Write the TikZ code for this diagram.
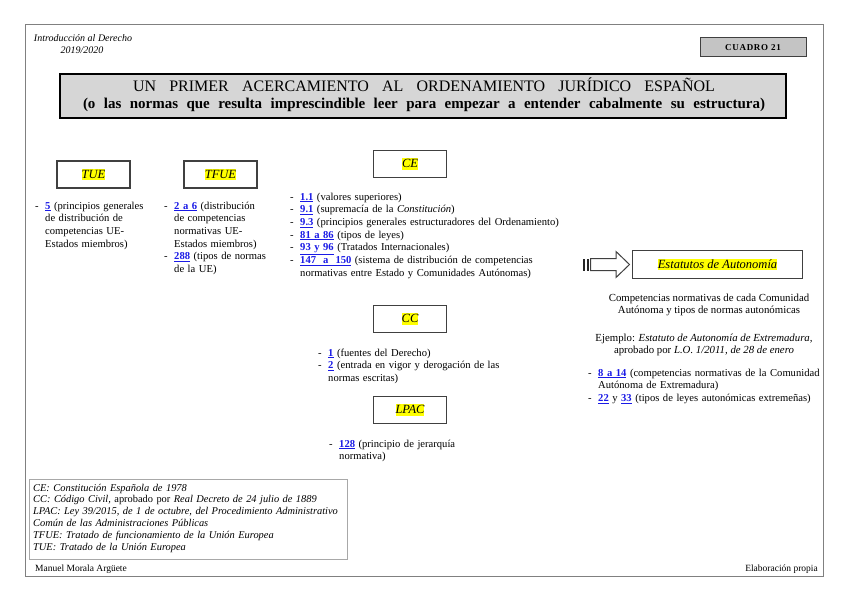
\documentclass[tikz,border=0pt]{standalone}
\usepackage{fontspec}
\setmainfont{Liberation Serif}
\usepackage{xcolor}
\definecolor{linkblue}{HTML}{1A1AE6}
\definecolor{hlyellow}{HTML}{FFFF00}
\definecolor{framegray}{HTML}{808080}
\definecolor{boxborder}{HTML}{404040}
\definecolor{titlefill}{HTML}{D6D6D6}
\definecolor{cuadrofill}{HTML}{C4C4C4}
\definecolor{legendgray}{HTML}{A8A8A8}
\newcommand\lk[1]{\textcolor{linkblue}{\underline{\textbf{#1}}}}
\newcommand\dsh{\makebox[10pt][l]{-}}
\newcommand\ind{\hspace*{10pt}}
\newcommand\hlt[1]{{\setlength{\fboxsep}{0pt}\colorbox{hlyellow}{\rule[-2pt]{0pt}{11.5pt}#1}}}
\begin{document}
\begin{tikzpicture}[x=1pt,y=-1pt,
  lawbox/.style={draw=boxborder, line width=1.2pt, fill=white, minimum width=73pt,
    minimum height=27pt, inner sep=0pt, font=\itshape\fontsize{12.5}{14}\selectfont},
  listtxt/.style={inner sep=0pt, anchor=base west, align=left,
    font=\fontsize{10.6}{12.7}\selectfont},
  linetxt/.style={inner sep=0pt, anchor=base, font=\fontsize{10.8}{12}\selectfont},
  hdr/.style={inner sep=0pt, anchor=base, font=\itshape\fontsize{10}{12}\selectfont},
  foot/.style={inner sep=0pt, font=\fontsize{9.5}{11}\selectfont},
  legendtxt/.style={inner sep=0pt, anchor=base west, align=left,
    font=\itshape\fontsize{10.4}{11.9}\selectfont}
]
\useasboundingbox (0,0) rectangle (848,599);
\fill[white] (0,0) rectangle (848,599);

% outer frame
\draw[framegray, line width=0.9pt] (25,24) rectangle (823,576);

% header
\node[hdr] (course) at (83,42) {Introducción al Derecho};
\node[hdr] (year) at (82,54) {2019/2020};
\node[draw=boxborder, line width=1pt, fill=cuadrofill, minimum width=106pt, minimum height=19pt,
  inner sep=0pt, font=\bfseries\fontsize{9}{10}\selectfont\addfontfeature{LetterSpace=8}]
  (cuadro) at (753,47.5) {CUADRO 21};

% title
\node[draw=black, line width=2.6pt, fill=titlefill, minimum width=726pt, minimum height=44pt,
  inner sep=0pt] (titlebox) at (423,96) {};
\node[inner sep=0pt, anchor=base, font=\fontsize{16}{18}\selectfont] (title1) at (424,91.5)
  {\makebox[582pt][s]{UN PRIMER ACERCAMIENTO AL ORDENAMIENTO JURÍDICO ESPAÑOL}};
\node[inner sep=0pt, anchor=base, font=\bfseries\fontsize{15}{17}\selectfont] (title2) at (424,108.5)
  {\makebox[682pt][s]{(o las normas que resulta imprescindible leer para empezar a entender cabalmente su estructura)}};

% law boxes
\node[lawbox] (tue) at (93.5,174.5) {\hlt{TUE}};
\node[lawbox] (tfue) at (220.5,174.5) {\hlt{TFUE}};
\node[lawbox] (ce) at (410,164) {\hlt{CE}};
\node[lawbox] (cc) at (410,319) {\hlt{CC}};
\node[lawbox] (lpac) at (410,410) {\hlt{LPAC}};
\node[lawbox, minimum width=170pt, minimum height=28pt] (estatutos) at (717.5,264.5)
  {\hlt{Estatutos de Autonomía}};

% striped arrow
\fill[black!85] (583,258.5) rectangle (585,270.5);
\fill[black!85] (586.5,258.5) rectangle (589,270.5);
\draw[boxborder, line width=1pt, fill=white]
  (590.5,258.5) -- (616,258.5) -- (616,251.5) -- (629.5,264.5) -- (616,277.5) -- (616,270.5) -- (590.5,270.5) -- cycle;

% TUE list
\node[listtxt, text width=125pt] (tuelist) at (35,209)
  {\dsh\lk{5} (principios generales\\
   \ind de distribución de\\
   \ind competencias UE-\\
   \ind Estados miembros)};

% TFUE list
\node[listtxt, text width=125pt] (tfuelist) at (164,209)
  {\dsh\lk{2 a 6} (distribución\\
   \ind de competencias\\
   \ind normativas UE-\\
   \ind Estados miembros)\\
   \dsh\lk{288} (tipos de normas\\
   \ind de la UE)};

% CE list
\node[listtxt, text width=277pt] (celist) at (290,200)
  {\dsh\lk{1.1} (valores superiores)\\
   \dsh\lk{9.1} (supremacía de la \textit{Constitución})\\
   \dsh\lk{9.3} (principios generales estructuradores del Ordenamiento)\\
   \dsh\lk{81 a 86} (tipos de leyes)\\
   \dsh\lk{93 y 96} (Tratados Internacionales)\\
   \makebox[277pt][s]{\dsh\lk{147\ \ a\ \ 150} (sistema de distribución de competencias}\\
   \ind normativas entre Estado y Comunidades Autónomas)};

% CC list
\node[listtxt, text width=200pt] (cclist) at (318,356)
  {\dsh\lk{1} (fuentes del Derecho)\\
   \dsh\lk{2} (entrada en vigor y derogación de las\\
   \ind normas escritas)};

% LPAC list
\node[listtxt, text width=163pt] (lpaclist) at (329,447)
  {\makebox[163pt][s]{\dsh\lk{128} (principio de jerarquía}\\
   \ind normativa)};

% right column
\node[linetxt] (comp1) at (709,301) {Competencias normativas de cada Comunidad};
\node[linetxt] (comp2) at (709,313) {Autónoma y tipos de normas autonómicas};
\node[linetxt] (ej1) at (704,341) {Ejemplo: \textit{Estatuto de Autonomía de Extremadura,}};
\node[linetxt] (ej2) at (704,353) {aprobado por \textit{L.O. 1/2011, de 28 de enero}};
\node[listtxt, text width=240pt] (eslist) at (588,376)
  {\dsh\lk{8 a 14} (competencias normativas de la Comunidad\\
   \ind Autónoma de Extremadura)\\
   \dsh\lk{22} y \lk{33} (tipos de leyes autonómicas extremeñas)};

% legend
\node[draw=legendgray, line width=0.9pt, minimum width=318pt, minimum height=80pt, inner sep=0pt]
  (legendbox) at (188,519) {};
\node[legendtxt, text width=314pt] (legend) at (33,491)
  {CE: Constitución Española de 1978\\
   CC: Código Civil, {\upshape aprobado por} Real Decreto de 24 julio de 1889\\
   LPAC: Ley 39/2015, de 1 de octubre, del Procedimiento Administrativo\\
   Común de las Administraciones Públicas\\
   TFUE: Tratado de funcionamiento de la Unión Europea\\
   TUE: Tratado de la Unión Europea};

% footer
\node[foot, anchor=base west] (author) at (35,571) {Manuel Morala Argüete};
\node[foot, anchor=base east] (elab) at (818,571) {Elaboración propia};
\end{tikzpicture}
\end{document}
